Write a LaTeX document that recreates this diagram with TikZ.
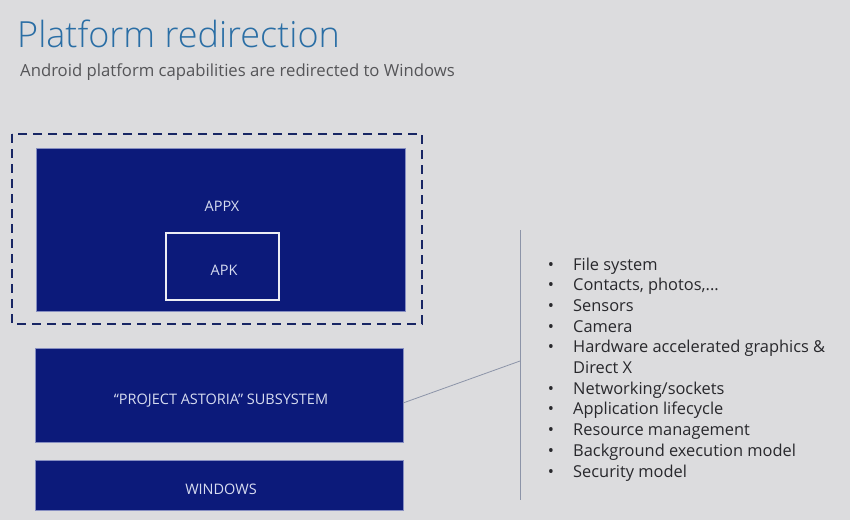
\documentclass[tikz,border=0pt]{standalone}
\usepackage{fontspec}
\setmainfont{Open Sans}
\newfontfamily\titlefont{Open Sans Light}
\definecolor{bg}{RGB}{220,220,222}
\definecolor{navy}{RGB}{12,26,122}
\definecolor{dashnavy}{RGB}{24,38,100}
\definecolor{titleblue}{RGB}{42,110,165}
\definecolor{subgray}{RGB}{85,85,88}
\definecolor{boxtext}{RGB}{215,220,240}
\definecolor{linegray}{RGB}{140,148,168}
\definecolor{listtext}{RGB}{40,40,44}
\tikzset{
  layerbox/.style={fill=navy, draw=boxtext!60!navy, line width=0.6pt},
  boxlabel/.style={text=boxtext, anchor=base, inner sep=0pt, font=\fontsize{14.5}{17}\selectfont},
  bulletdot/.style={anchor=base, inner sep=0pt, text=listtext, font=\fontsize{16.4}{20}\selectfont},
  itemtext/.style={anchor=base west, inner sep=0pt, text=listtext, font=\fontsize{16.4}{20}\selectfont},
  thinline/.style={draw=linegray, line width=0.9pt}
}
\begin{document}
\begin{tikzpicture}[x=1pt,y=-1pt]
\fill[bg] (0,0) rectangle (850,520);
\useasboundingbox (0,0) rectangle (850,520);
% title
\node[anchor=base west, inner sep=0pt, text=titleblue, font=\titlefont\fontsize{36}{40}\selectfont] (title) at (17,47) {Platform redirection};
\node[anchor=base west, inner sep=0pt, text=subgray, font=\fontsize{16.7}{20}\selectfont] (subtitle) at (20,76) {Android platform capabilities are redirected to Windows};
% dashed frame
\draw[dashnavy, line width=2.8pt, dash pattern=on 9pt off 6pt] (12,134) rectangle (422,324);
% APPX
\draw[layerbox] (36,148) rectangle (405,311);
\node[boxlabel] (appx) at (222,211) {APPX};
\draw[draw=white!92!navy, line width=1.6pt] (166,233) rectangle (279,300);
\node[boxlabel] (apk) at (224,275) {APK};
% subsystem
\node[layerbox, minimum width=368pt, minimum height=94pt, inner sep=0pt] (sub) at (219,395) {};
\node[boxlabel] (sublabel) at (221,404) {{\char"201C}PROJECT ASTORIA{\char"201D} SUBSYSTEM};
% windows
\node[layerbox, minimum width=368pt, minimum height=50pt, inner sep=0pt] (win) at (219,485) {};
\node[boxlabel] (winlabel) at (221,494) {WINDOWS};
% vertical line and connector
\coordinate (vtop) at (520,230);
\coordinate (vbot) at (520,500);
\coordinate (vjoin) at (520,361);
\coordinate (subjoin) at (403,403);
\draw[thinline] (vtop) -- (vbot);
\draw[thinline, line width=0.8pt] (subjoin) -- (vjoin);
% list
\foreach \i/\txt/\b in {0/{File system}/1, 1/{Contacts, photos,...}/1, 2/{Sensors}/1, 3/{Camera}/1, 4/{Hardware accelerated graphics \&}/1, 5/{Direct X}/0, 6/{Networking{/}sockets}/1, 7/{Application lifecycle}/1, 8/{Resource management}/1, 9/{Background execution model}/1, 10/{Security model}/1}{
  \node[itemtext] (item\i) at (573,{270+\i*20.7}) {\txt};
  \ifnum\b=1
    \node[bulletdot] (bul\i) at (551,{270+\i*20.7}) {\textbullet};
  \fi
}
\end{tikzpicture}
\end{document}
